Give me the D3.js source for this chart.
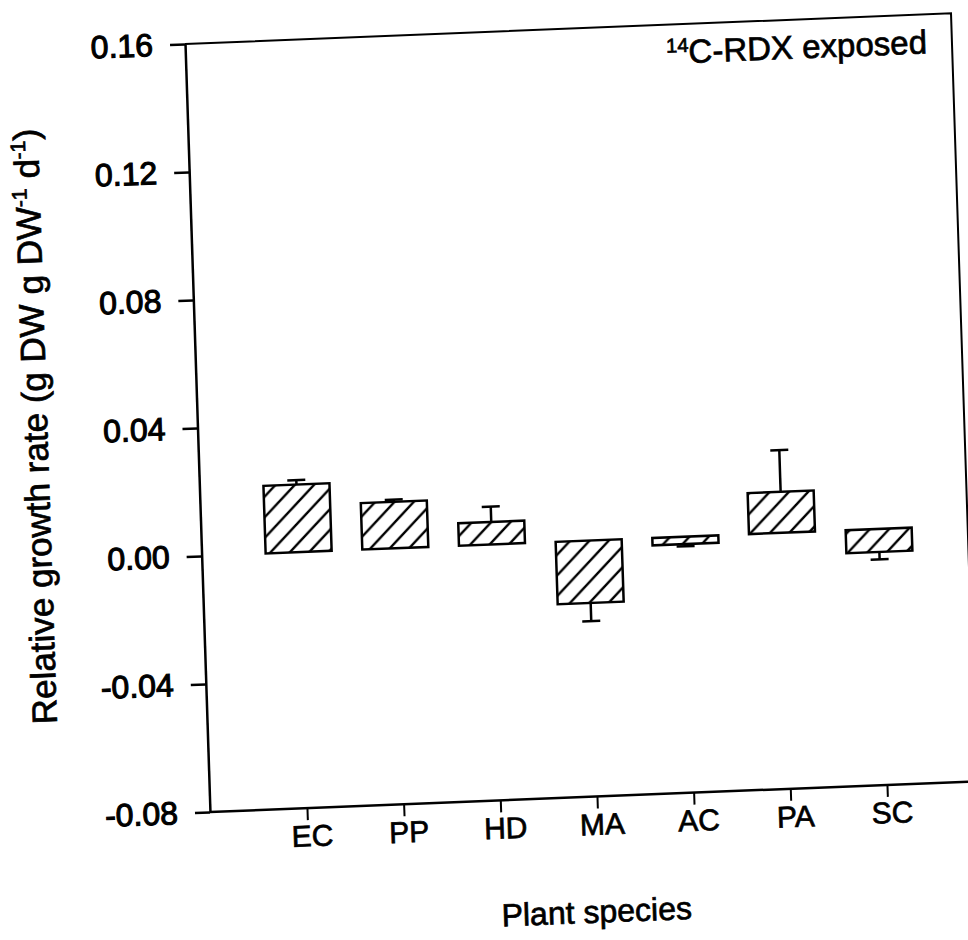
<!DOCTYPE html>
<html>
<head>
<meta charset="utf-8">
<script src="https://cdn.jsdelivr.net/npm/d3@7"></script>
<style>
body { margin: 0; background: #fff; }
svg { display: block; }
text { font-family: "Liberation Sans", Arial, sans-serif; fill: #000; stroke: #000; stroke-width: 0.7px; }
.y-ticks text { stroke-width: 1.1px; }
</style>
</head>
<body>
<script>
// data
const species = ["EC", "PP", "HD", "MA", "AC", "PA", "SC"];
const growthRate = [0.0211, 0.0145, 0.0070, -0.0195, -0.0023, 0.0128, -0.0072];
const growthErr = [0.0014, 0.0007, 0.0048, 0.0057, 0.0007, 0.0130, 0.0023];
const yTicks = [-0.08, -0.04, 0, 0.04, 0.08, 0.12, 0.16];

const width = 968, height = 940;
const plotW = 766, plotH = 768;
const barW = 66, capW = 18;

// the scanned page is a bit crooked, so the whole plot gets the same tilt
const tilt = "matrix(1,-0.04,0.0325,1,185,44)";

const svg = d3.select("body").append("svg")
  .attr("width", width)
  .attr("height", height);

// diagonal hatch for the bars
const pat = svg.append("defs").append("pattern")
  .attr("id", "hatch")
  .attr("patternUnits", "userSpaceOnUse")
  .attr("width", 20)
  .attr("height", 20);
pat.append("rect").attr("width", 20).attr("height", 20).attr("fill", "#fff");
pat.append("path")
  .attr("d", "M-5,5 L5,-5 M0,20 L20,0 M15,25 L25,15")
  .attr("stroke", "#000")
  .attr("stroke-width", 2.4);

const g = svg.append("g").attr("transform", tilt);

const x = d3.scalePoint().domain(species).range([97, 677]);
const y = d3.scaleLinear().domain([-0.08, 0.16]).range([plotH, 0]);

// top and right frame
g.append("path")
  .attr("d", `M0,0 H${plotW} V${plotH}`)
  .attr("fill", "none")
  .attr("stroke", "#000")
  .attr("stroke-width", 2);

// y axis
const yAxis = g.append("g")
  .attr("class", "y-ticks")
  .call(d3.axisLeft(y)
    .tickValues(yTicks)
    .tickFormat(d => d.toFixed(2))
    .tickSize(15)
    .tickPadding(17)
    .tickSizeOuter(0));
yAxis.selectAll("path, line").attr("stroke", "#000").attr("stroke-width", 2.5);
yAxis.selectAll("text")
  .attr("font-size", 32)
  .attr("font-family", "Liberation Sans, Arial, sans-serif");

// x axis
const xAxis = g.append("g")
  .attr("transform", `translate(0,${plotH})`)
  .call(d3.axisBottom(x).tickSize(12).tickPadding(5).tickSizeOuter(0));
xAxis.select(".domain").remove();
xAxis.selectAll("line").attr("stroke", "#000").attr("stroke-width", 2);
xAxis.selectAll("text")
  .attr("font-size", 30)
  .attr("dx", 4)
  .attr("font-family", "Liberation Sans, Arial, sans-serif");
g.append("line")
  .attr("x1", 0).attr("x2", plotW)
  .attr("y1", plotH).attr("y2", plotH)
  .attr("stroke", "#000")
  .attr("stroke-width", 2.5);

// bars
g.selectAll("rect.bar")
  .data(species)
  .join("rect")
  .attr("class", "bar")
  .attr("x", d => x(d) - barW / 2)
  .attr("y", (d, i) => y(Math.max(0, growthRate[i])))
  .attr("width", barW)
  .attr("height", (d, i) => Math.abs(y(growthRate[i]) - y(0)))
  .attr("fill", "url(#hatch)")
  .attr("stroke", "#000")
  .attr("stroke-width", 2.5);

// one-sided error bars, pointing away from zero
const errEnd = i => growthRate[i] + Math.sign(growthRate[i]) * growthErr[i];

g.selectAll("line.stem")
  .data(species)
  .join("line")
  .attr("class", "stem")
  .attr("x1", d => x(d)).attr("x2", d => x(d))
  .attr("y1", (d, i) => y(growthRate[i]))
  .attr("y2", (d, i) => y(errEnd(i)))
  .attr("stroke", "#000")
  .attr("stroke-width", 2.5);

g.selectAll("line.cap")
  .data(species)
  .join("line")
  .attr("class", "cap")
  .attr("x1", d => x(d) - capW / 2).attr("x2", d => x(d) + capW / 2)
  .attr("y1", (d, i) => y(errEnd(i)))
  .attr("y2", (d, i) => y(errEnd(i)))
  .attr("stroke", "#000")
  .attr("stroke-width", 2.5);

// annotation
const note = g.append("text")
  .attr("x", plotW - 25)
  .attr("y", 39)
  .attr("text-anchor", "end")
  .attr("font-size", 33);
note.append("tspan").attr("font-size", 20).attr("dy", -11).text("14");
note.append("tspan").attr("dy", 11).text("C-RDX exposed");

// axis titles
g.append("text")
  .attr("x", plotW / 2)
  .attr("y", plotH + 126)
  .attr("text-anchor", "middle")
  .attr("font-size", 32)
  .text("Plant species");

const yTitle = g.append("text")
  .attr("transform", "translate(-150,376) rotate(-90)")
  .attr("text-anchor", "middle")
  .attr("font-size", 35);
yTitle.append("tspan").text("Relative growth rate (g DW g DW");
yTitle.append("tspan").attr("font-size", 21).attr("dy", -13).text("-1");
yTitle.append("tspan").attr("dy", 13).text(" d");
yTitle.append("tspan").attr("font-size", 21).attr("dy", -13).text("-1");
yTitle.append("tspan").attr("dy", 13).text(")");
</script>
</body>
</html>
